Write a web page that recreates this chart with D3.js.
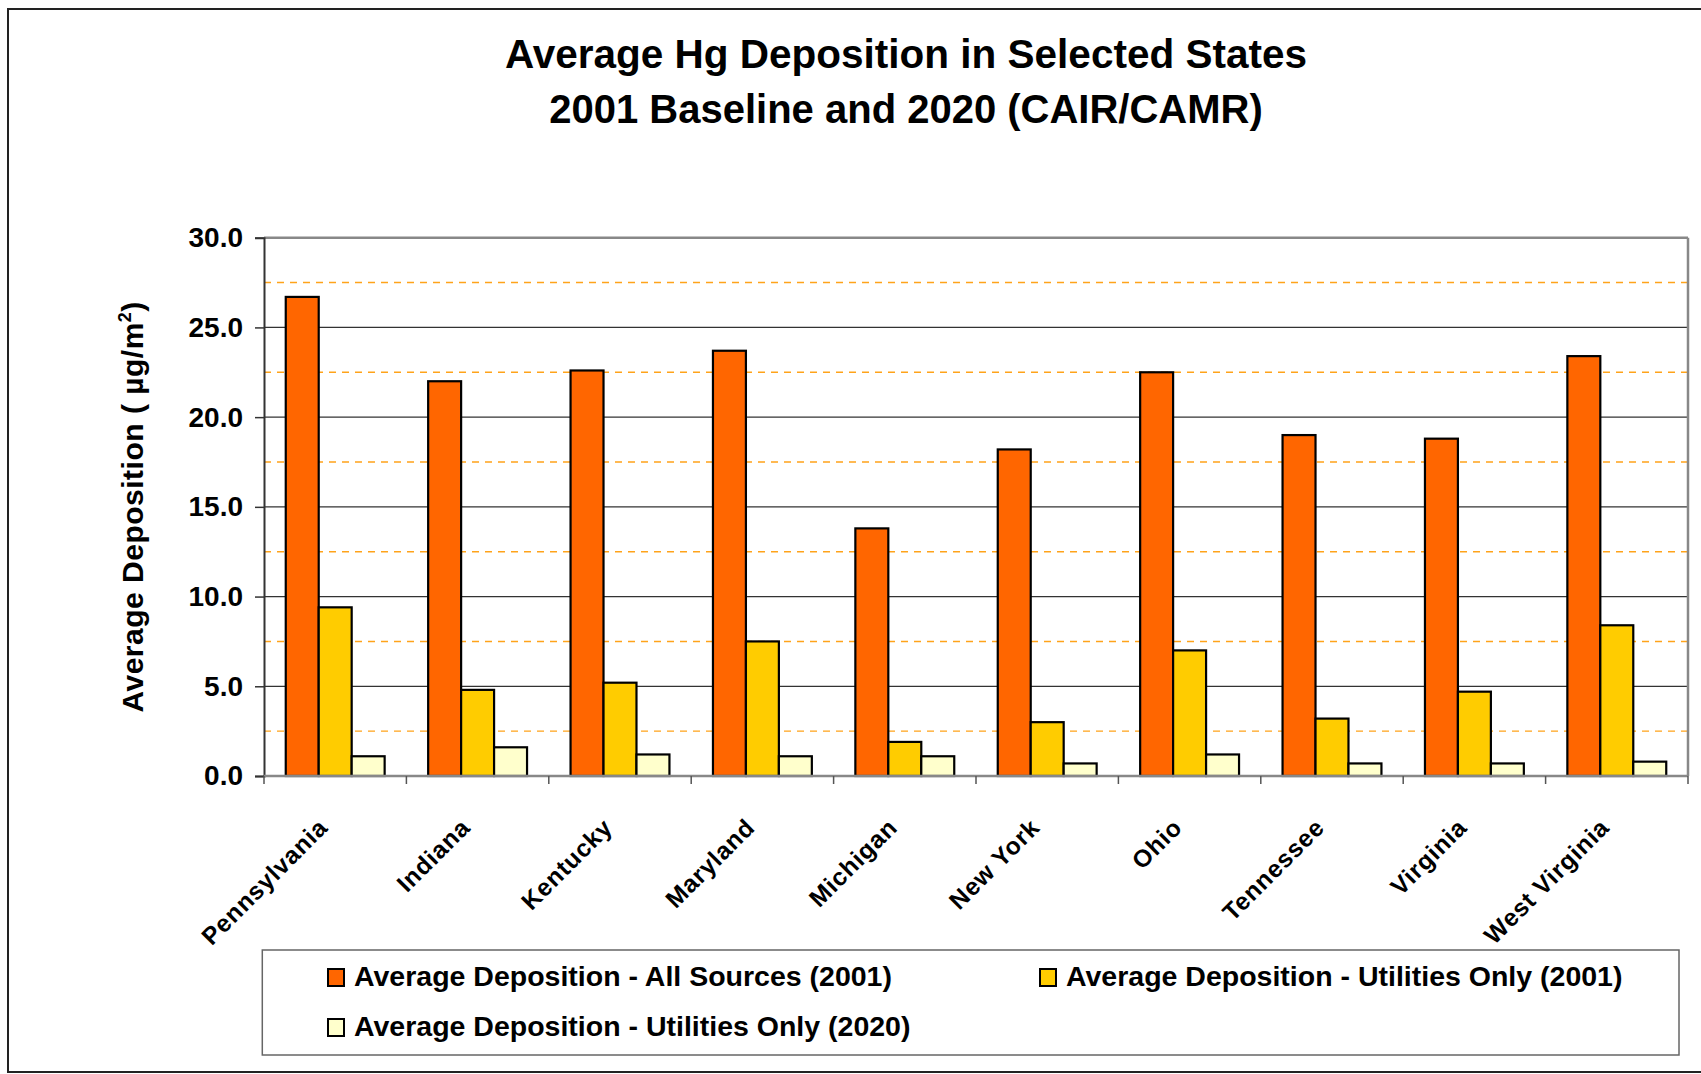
<!DOCTYPE html>
<html>
<head>
<meta charset="utf-8">
<script src="https://cdn.jsdelivr.net/npm/d3@7"></script>
<style>
  html, body { margin: 0; padding: 0; background: #fff; }
  svg { display: block; font-family: "Liberation Sans", Arial, sans-serif; }
</style>
</head>
<body>
<svg id="chart" width="1701" height="1074"></svg>
<script>
// ---- Data ----
const categories = ["Pennsylvania", "Indiana", "Kentucky", "Maryland", "Michigan",
                    "New York", "Ohio", "Tennessee", "Virginia", "West Virginia"];
const seriesNames = ["Average Deposition - All Sources (2001)",
                     "Average Deposition - Utilities Only (2001)",
                     "Average Deposition - Utilities Only (2020)"];
const allSources2001 = [26.7, 22.0, 22.6, 23.7, 13.8, 18.2, 22.5, 19.0, 18.8, 23.4];
const utilities2001  = [9.4, 4.8, 5.2, 7.5, 1.9, 3.0, 7.0, 3.2, 4.7, 8.4];
const utilities2020  = [1.1, 1.6, 1.2, 1.1, 1.1, 0.7, 1.2, 0.7, 0.7, 0.8];
const yTicks = [0, 5, 10, 15, 20, 25, 30];
const yMinor = [2.5, 7.5, 12.5, 17.5, 22.5, 27.5];
const seriesColors = ["#FF6600", "#FFCC00", "#FFFFCC"];

const seriesValues = [allSources2001, utilities2001, utilities2020];
const table = categories.map((c, i) => ({
  cat: c,
  vals: seriesNames.map((s, j) => ({ key: s, value: seriesValues[j][i], color: seriesColors[j] }))
}));

// ---- Layout ----
const svg = d3.select("#chart");
const plot = { left: 264, right: 1688, top: 237.7, bottom: 776 };

// outer frame
svg.append("rect").attr("x", 8).attr("y", 9).attr("width", 1700).attr("height", 1063)
  .attr("fill", "none").attr("stroke", "#222").attr("stroke-width", 2);

// title
const title = svg.append("text").attr("text-anchor", "middle")
  .attr("font-weight", "bold").attr("font-size", 40).attr("fill", "#000");
title.append("tspan").attr("x", 906).attr("y", 68).attr("font-size", 40.5).text("Average Hg Deposition in Selected States");
title.append("tspan").attr("x", 906).attr("y", 123).text("2001 Baseline and 2020 (CAIR/CAMR)");

// scales
const x0 = d3.scaleBand().domain(categories).range([plot.left, plot.right]).paddingInner(0).paddingOuter(0);
const x1 = d3.scaleBand().domain(seriesNames).range([0, x0.bandwidth()]).paddingInner(0).paddingOuter(0.66);
const y = d3.scaleLinear().domain([0, 30]).range([plot.bottom, plot.top]);

// dashed minor gridlines
svg.append("g").selectAll("line").data(yMinor).join("line")
  .attr("x1", plot.left).attr("x2", plot.right)
  .attr("y1", d => y(d)).attr("y2", d => y(d))
  .attr("stroke", "#FFA31A").attr("stroke-width", 1.4).attr("stroke-dasharray", "7,6");

// major gridlines
svg.append("g").selectAll("line").data(yTicks.filter(d => d > 0 && d < 30)).join("line")
  .attr("x1", plot.left).attr("x2", plot.right)
  .attr("y1", d => y(d)).attr("y2", d => y(d))
  .attr("stroke", "#333").attr("stroke-width", 1.3);

// plot border top/right
svg.append("line").attr("x1", plot.left).attr("x2", plot.right).attr("y1", y(30)).attr("y2", y(30))
  .attr("stroke", "#888").attr("stroke-width", 2.5);
svg.append("line").attr("x1", plot.right).attr("x2", plot.right).attr("y1", plot.top).attr("y2", plot.bottom)
  .attr("stroke", "#888").attr("stroke-width", 2.5);

// bars
const groups = svg.append("g").selectAll("g").data(table).join("g")
  .attr("transform", d => `translate(${x0(d.cat)},0)`);
groups.selectAll("rect").data(d => d.vals).join("rect")
  .attr("x", d => x1(d.key)).attr("width", x1.bandwidth())
  .attr("y", d => y(d.value)).attr("height", d => y(0) - y(d.value))
  .attr("fill", d => d.color).attr("stroke", "#000").attr("stroke-width", 2.2);

// y axis
const yAxis = d3.axisLeft(y).tickValues(yTicks).tickFormat(d3.format(".1f")).tickSize(9).tickPadding(12);
const gy = svg.append("g").attr("transform", `translate(${plot.left},0)`).call(yAxis);
gy.select(".domain").attr("stroke", "#333").attr("stroke-width", 2);
gy.selectAll(".tick line").attr("stroke", "#333").attr("stroke-width", 1.5);
gy.selectAll(".tick text").attr("font-size", 28).attr("font-weight", "bold").attr("fill", "#000")
  .attr("font-family", "Liberation Sans, Arial, sans-serif");

// x axis with ticks at category boundaries
const gx = svg.append("g").attr("transform", `translate(0,${plot.bottom})`);
gx.append("line").attr("x1", plot.left).attr("x2", plot.right).attr("y1", 0).attr("y2", 0)
  .attr("stroke", "#888").attr("stroke-width", 2.5);
const boundaries = categories.map(c => x0(c)).concat([x0(categories[categories.length - 1]) + x0.bandwidth()]);
gx.selectAll("line.tk").data(boundaries).join("line").attr("class", "tk")
  .attr("x1", d => d).attr("x2", d => d).attr("y1", 0).attr("y2", 8)
  .attr("stroke", "#555").attr("stroke-width", 1.5);
gx.selectAll("text").data(categories).join("text")
  .attr("transform", d => `translate(${x0(d) + x0.bandwidth() / 2 - 6},${53}) rotate(-45)`)
  .attr("text-anchor", "end").attr("font-size", 24.5).attr("font-weight", "bold").attr("fill", "#000")
  .attr("letter-spacing", 0.8)
  .text(d => d);

// y axis title
const yt = svg.append("text")
  .attr("transform", `translate(143,${(plot.top + plot.bottom) / 2}) rotate(-90)`)
  .attr("text-anchor", "middle").attr("font-size", 30).attr("font-weight", "bold")
  .attr("letter-spacing", 0.5).attr("fill", "#000");
yt.append("tspan").text("Average Deposition ( µg/m");
yt.append("tspan").attr("font-size", 18).attr("dy", -12).text("2");
yt.append("tspan").attr("dy", 12).text(")");

// legend
svg.append("rect").attr("x", 262.3).attr("y", 950).attr("width", 1679 - 262.3).attr("height", 105)
  .attr("fill", "#fff").attr("stroke", "#666").attr("stroke-width", 1.5);
const legendPos = [[328, 969], [1040, 969], [328, 1019]];
const lg = svg.append("g").selectAll("g").data(seriesNames).join("g")
  .attr("transform", (d, i) => `translate(${legendPos[i][0]},${legendPos[i][1]})`);
lg.append("rect").attr("width", 16).attr("height", 17)
  .attr("fill", (d, i) => seriesColors[i]).attr("stroke", "#000").attr("stroke-width", 2);
lg.append("text").attr("x", 26).attr("y", 17).attr("font-size", 28.5).attr("font-weight", "bold")
  .attr("fill", "#000").text(d => d);
</script>
</body>
</html>
